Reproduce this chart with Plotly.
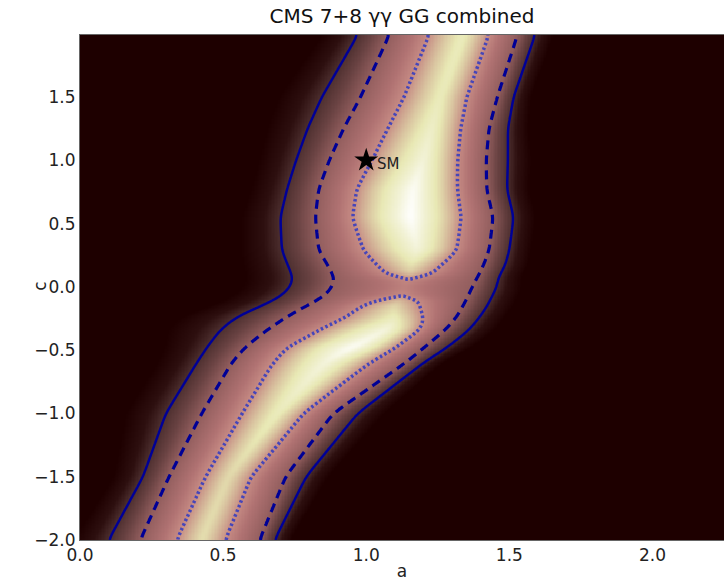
import numpy as np
import plotly.graph_objects as go

# ---- data (band profile per row of c) ----
row_c       = [-2.0, -1.5, -1.0, -0.6, -0.48, -0.34, -0.234, -0.155, -0.081, 0.0, 0.069, 0.16, 0.29, 0.55, 0.77, 1.0, 1.25, 1.5, 1.99]
solid_left  = [0.10, 0.22, 0.30, 0.408, 0.443, 0.49, 0.548, 0.629, 0.70, 0.735, 0.745, 0.728, 0.705, 0.70, 0.723, 0.755, 0.795, 0.845, 0.97]
dash_left   = [0.21, 0.31, 0.425, 0.529, 0.575, 0.653, 0.723, 0.785, 0.849, 0.879, 0.889, 0.868, 0.833, 0.822, 0.833, 0.87, 0.92, 0.98, 1.08]
centre_a    = [0.425, 0.52, 0.69, 0.855, 0.95, 1.075, 1.105, 1.09, 1.131, 1.13, 1.154, 1.155, 1.18, 1.155, 1.165, 1.20, 1.23, 1.26, 1.34]
dash_right  = [0.63, 0.72, 0.885, 1.14, 1.203, 1.277, 1.319, 1.339, 1.357, 1.375, 1.39, 1.41, 1.431, 1.445, 1.422, 1.42, 1.43, 1.46, 1.53]
solid_right = [0.68, 0.79, 0.97, 1.20, 1.282, 1.36, 1.398, 1.422, 1.438, 1.457, 1.46, 1.484, 1.50, 1.515, 1.492, 1.495, 1.495, 1.515, 1.59]

# row minimum (in sigma) along c, with finer rows round the two island tips
min_c       = [-2.0, -1.5, -1.0, -0.6, -0.48, -0.34, -0.234, -0.155, -0.13, -0.105, -0.09, -0.081, 0.0, 0.069, 0.078, 0.095, 0.125, 0.16, 0.29, 0.55, 0.77, 1.0, 1.25, 1.5, 1.99]
sigma_min   = [0.86, 0.90, 0.67, 0.31, 0.05, 0.29, 0.73, 0.95, 1.05, 1.19, 1.33, 1.52, 1.70, 1.52, 1.35, 1.18, 1.0, 0.90, 0.36, 0.0, 0.08, 0.36, 0.55, 0.70, 0.68]

delta_chi2_levels = [2.30, 6.18, 11.83]   # 1, 2, 3 sigma
sm_a = [1.0]
sm_c = [1.0]
sm_label = ["SM"]
x_ticks = [0.0, 0.5, 1.0, 1.5, 2.0]
y_ticks = [-2.0, -1.5, -1.0, -0.5, 0.0, 0.5, 1.0, 1.5]
title_text = "CMS 7+8 γγ GG combined"

# ---- build the field on a grid ----
A = np.linspace(0.0, 2.25, 451)
C = np.linspace(-2.0, 1.99, 400)
lv = np.sqrt(delta_chi2_levels)


def smooth_rows(v, sig=3.5):
    n = max(1, int(3 * sig))
    k = np.exp(-0.5 * (np.arange(-n, n + 1) / sig) ** 2)
    k /= k.sum()
    p = np.pad(v, n, mode="edge")
    return np.convolve(p, k, mode="valid")


sl = smooth_rows(np.interp(C, row_c, solid_left))
dl = smooth_rows(np.interp(C, row_c, dash_left))
a0 = smooth_rows(np.interp(C, row_c, centre_a))
sm = smooth_rows(np.interp(C, min_c, sigma_min), sig=1.2)
dr = smooth_rows(np.interp(C, row_c, dash_right))
sr = smooth_rows(np.interp(C, row_c, solid_right))

S = np.zeros((len(C), len(A)))
for i in range(len(C)):
    kl = (lv[2] - lv[1]) / (dl[i] - sl[i])
    kr = (lv[2] - lv[1]) / (sr[i] - dr[i])
    xs = [sl[i] - 1.0, sl[i], dl[i], a0[i], dr[i], sr[i], sr[i] + 1.0]
    ys = [lv[2] + kl, lv[2], lv[1], sm[i], lv[1], lv[2], lv[2] + kr]
    S[i] = np.interp(A, xs, ys)

kern = np.array([1, 4, 6, 4, 1], dtype=float)
kern /= kern.sum()
for _ in range(2):
    P = np.pad(S, ((0, 0), (2, 2)), mode="edge")
    S = sum(kern[k] * P[:, k:k + S.shape[1]] for k in range(5))
    P = np.pad(S, ((2, 2), (0, 0)), mode="edge")
    S = sum(kern[k] * P[k:k + S.shape[0], :] for k in range(5))
S = np.clip(S, 0, 4.6)
S = np.round(S, 3)

smax = 4.5
pink = [
    [0.0, "rgb(255,255,255)"],
    [0.4 / smax, "rgb(242,242,214)"],
    [0.8 / smax, "rgb(232,232,180)"],
    [1.1 / smax, "rgb(218,198,161)"],
    [1.3 / smax, "rgb(208,171,147)"],
    [1.52 / smax, "rgb(198,139,132)"],
    [1.9 / smax, "rgb(176,114,114)"],
    [2.49 / smax, "rgb(145,93,93)"],
    [3.0 / smax, "rgb(105,66,66)"],
    [3.44 / smax, "rgb(77,47,47)"],
    [3.9 / smax, "rgb(45,15,15)"],
    [1.0, "rgb(30,0,0)"],
]

fig = go.Figure()
fig.add_trace(go.Heatmap(x=A, y=C, z=S, colorscale=pink, zmin=0, zmax=smax,
                         showscale=False, hoverinfo="skip"))

styles = [
    dict(color="rgb(70,70,185)", width=3.5, dash="2.5px,2.5px"),
    dict(color="rgb(0,0,150)", width=3.2, dash="9px,6px"),
    dict(color="rgb(0,0,150)", width=2.5, dash="solid"),
]
for lev, st in zip(lv, styles):
    fig.add_trace(go.Contour(x=A, y=C, z=S, showscale=False, hoverinfo="skip",
                             contours=dict(start=lev, end=lev, size=1, coloring="none"),
                             line=st))

fig.add_trace(go.Scatter(x=sm_a, y=sm_c, mode="markers",
                         marker=dict(symbol="star", size=18, color="black"),
                         hoverinfo="skip"))
for xa, yc, lab in zip(sm_a, sm_c, sm_label):
    fig.add_annotation(x=xa, y=yc, text=lab, showarrow=False, xanchor="left",
                       xshift=9, yshift=-4, font=dict(size=15, color="#222"))

font = "DejaVu Sans, Arial, sans-serif"
fig.update_layout(
    width=724, height=581,
    margin=dict(l=80, r=0, t=35, b=41),
    paper_bgcolor="white", plot_bgcolor="rgb(30,0,0)",
    showlegend=False,
    font=dict(family=font, size=17, color="#222"),
    title=dict(text=title_text, x=0.5, xref="paper", y=1 - 16 / 581, yref="container",
               yanchor="middle", xanchor="center", font=dict(size=20, color="#111")),
)
fig.add_annotation(text="c", xref="paper", yref="y", x=0, y=0.0, xanchor="center",
                   xshift=-40, textangle=-90, showarrow=False, font=dict(size=17, color="#222"))
fig.update_xaxes(range=[0, 2.25], tickvals=x_ticks, tickformat=".1f", showgrid=False, zeroline=False,
                 showline=True, linecolor="#666", linewidth=1, mirror=True, ticks="",
                 title=dict(text="a", standoff=4, font=dict(size=17)))
fig.update_yaxes(range=[-2.0, 1.99], tickvals=y_ticks, tickformat=".1f", showgrid=False, zeroline=False,
                 showline=True, linecolor="#666", linewidth=1, mirror=True, ticks="")

fig.write_html("out.html")
